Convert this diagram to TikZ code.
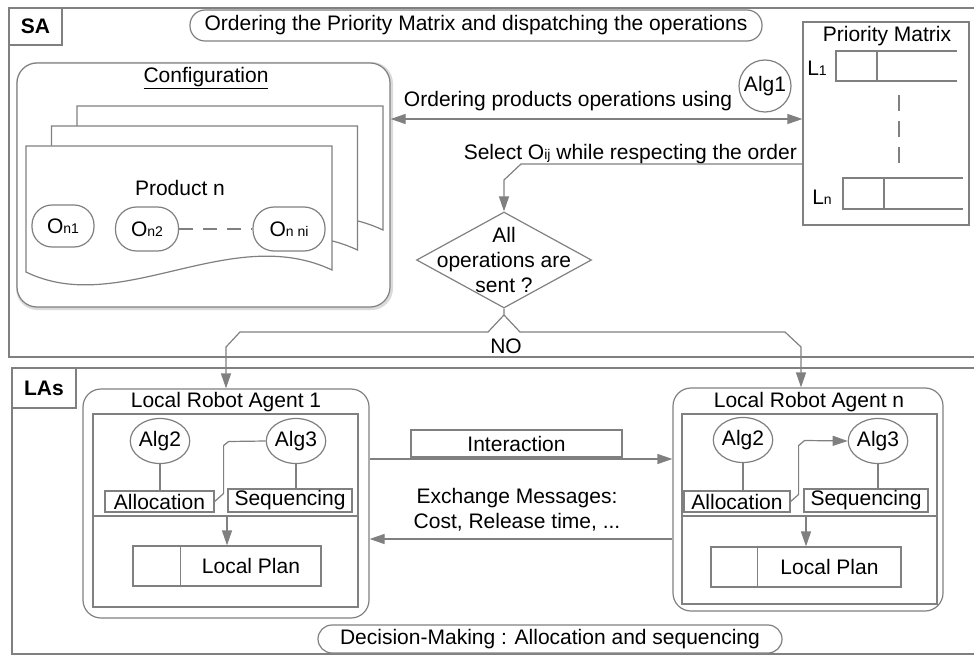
\documentclass[tikz,border=0pt]{standalone}
\usepackage{fontspec}
\setmainfont{Liberation Sans}
\usetikzlibrary{arrows.meta,shapes.geometric,positioning}
\definecolor{linegray}{HTML}{808080}
\definecolor{shadegray}{HTML}{DADADA}
\newcommand{\mainfs}{\fontsize{21}{25}\selectfont}
\newcommand{\idx}[1]{{\fontsize{14}{14}\selectfont #1}}

\begin{document}
\begin{tikzpicture}[
  x=1pt, y=-1pt,
  every node/.style={font=\mainfs, inner sep=0pt, text=black},
  box/.style={draw=linegray, line width=1.2pt, fill=white},
  pill/.style={box, rounded corners=#1},
  pill/.default=14pt,
  oval/.style={box, ellipse},
  agentbox/.style={draw=linegray, line width=1.2pt, rounded corners=18pt},
  line/.style={draw=linegray, line width=1.2pt},
  arr/.style={line, -{Triangle[length=15pt, width=10pt]}},
  biarr/.style={line, {Triangle[length=15pt, width=10pt]}-{Triangle[length=15pt, width=10pt]}},
]
  \useasboundingbox (0,0) rectangle (974,655);
  \clip (0,0) rectangle (974,655);

  % Frames: SA on top, LAs below
  \draw[line] (9,8) rectangle (990,357);
  \draw[line] (12,368) rectangle (990,654);
  \node[box, minimum width=53pt, minimum height=37pt, font=\mainfs\bfseries] (salbl) at (35.5,26.5) {SA};
  \node[box, minimum width=64pt, minimum height=40pt, font=\mainfs\bfseries] (laslbl) at (44,388) {LAs};
  \node[pill=15pt, minimum width=572pt, minimum height=31pt] (ttl) at (476,25.5) {Ordering the Priority Matrix and dispatching the operations};

  % Configuration with the stacked products
  \node[draw=shadegray, line width=3pt, rounded corners=20pt, minimum width=374pt, minimum height=245pt] (confsh) at (204.5,186) {};
  \node[box, rounded corners=20pt, minimum width=373pt, minimum height=244pt] (conf) at (203.5,185) {};
  \node (conftl) at (206,78) {\underline{Configuration}};
  \foreach \s in {2,1,0}
    \draw[line, fill=white, shift={(\s*25.5,-\s*20)}] (26,146) -- (332,146) -- (332,270)
      .. controls (230,222) and (120,318) .. (26,272) -- cycle;
  \node (prod) at (180,188) {Product n};
  \node[pill=20pt, minimum width=62pt, minimum height=42pt] (o1) at (63,226) {O\idx{n1}};
  \node[pill=21pt, minimum width=63pt, minimum height=44pt] (o2) at (147,229) {O\idx{n2}};
  \node[pill=21pt, minimum width=72pt, minimum height=44pt] (oni) at (289,229) {O\idx{n ni}};
  \draw[line, dash pattern=on 14pt off 10pt] (o2) -- (oni);

  % Priority Matrix
  \node[box, minimum width=166pt, minimum height=203pt] (pm) at (886,123.5) {};
  \node (pmt) at (887,36) {Priority Matrix};
  \node (l1) at (817,68) {L\idx{1}};
  \draw[line] (957,51) -- (836,51) -- (836,81) -- (957,81) (877,51) -- (877,81);
  \draw[line, dash pattern=on 16pt off 10pt] (899,95) -- (899,163);
  \node (ln) at (822,197) {L\idx{n}};
  \draw[line] (963,178) -- (843,178) -- (843,209) -- (963,209) (884,178) -- (884,209);

  % Ordering and selection
  \coordinate (ordy) at (0,119);
  \draw[biarr] (conf.east |- ordy) -- (pm.west |- ordy);
  \node (ordtxt) at (568,101) {Ordering products operations using};
  \node[box, circle, minimum size=52pt] (alg1) at (765,86) {Alg1};
  \node[anchor=east] (sel) at (797,154) {Select O\idx{ij} while respecting the order};
  \node[diamond, draw=linegray, line width=1.2pt, minimum width=175pt, minimum height=96pt,
    label={[align=center]center:{All\\operations are\\sent ?}}] (dec) at (504,260) {};
  \coordinate (sely) at (0,164);
  \draw[arr] (pm.west |- sely) -- (521,164) -- (504,180) -- (dec.north);

  % Local Robot Agent 1
  \node[agentbox, minimum width=286pt, minimum height=229pt] (ag1) at (226,503.5) {};
  \node (ag1t) at (226,402) {Local Robot Agent 1};
  \node[box, minimum width=265pt, minimum height=193pt] (in1) at (225.5,510.5) {};
  \coordinate (divy) at (0,516);
  \draw[line] (in1.west |- divy) -- (in1.east |- divy);
  \node[oval, minimum width=58pt, minimum height=45pt] (a2a) at (160,441) {Alg2};
  \node[oval, minimum width=56pt, minimum height=45pt] (a3a) at (296,441) {Alg3};
  \node[box, minimum width=109pt, minimum height=21pt] (alA) at (159.5,501.5) {Allocation};
  \node[box, minimum width=124pt, minimum height=23pt] (sqA) at (290,500.5) {Sequencing};
  \draw[line] (a2a.south) -- (a2a.south |- alA.north);
  \draw[line] (a3a.south) -- (a3a.south |- sqA.north);
  \draw[line] (alA.east) -- ++(9,-8) -- ++(0,-48) -- ++(5,-4) -- (a3a.west);
  \node[box, minimum width=188pt, minimum height=40pt] (lpA) at (227,566) {\hspace*{48pt}Local Plan};
  \draw[line] ([xshift=48pt]lpA.north west) -- ([xshift=48pt]lpA.south west);
  \coordinate (dvA) at (227,516);
  \draw[arr] (dvA) -- (lpA.north);

  % Local Robot Agent n
  \node[agentbox, minimum width=270pt, minimum height=223pt] (agn) at (808,499.5) {};
  \node (agnt) at (809,402) {Local Robot Agent n};
  \node[box, minimum width=255pt, minimum height=190pt] (inN) at (809.5,509) {};
  \draw[line] (inN.west |- divy) -- (inN.east |- divy);
  \node[oval, minimum width=56pt, minimum height=45pt] (a2n) at (743,440) {Alg2};
  \node[oval, minimum width=58pt, minimum height=45pt] (a3n) at (878,441) {Alg3};
  \node[box, minimum width=106pt, minimum height=21pt] (alN) at (737,501.5) {Allocation};
  \node[box, minimum width=124pt, minimum height=23pt] (sqN) at (866,500.5) {Sequencing};
  \draw[line] (a2n.south) -- (a2n.south |- alN.north);
  \draw[line] (a3n.south) -- (a3n.south |- sqN.north);
  \draw[arr] (alN.east) -- ++(8,-7) -- ++(0,-49) -- ++(6,-5) -- (a3n.west);
  \node[box, minimum width=190pt, minimum height=40pt] (lpN) at (806,567) {\hspace*{47pt}Local Plan};
  \draw[line] ([xshift=47pt]lpN.north west) -- ([xshift=47pt]lpN.south west);
  \coordinate (dvN) at (806,516);
  \draw[arr] (dvN) -- (lpN.north);

  % Dispatching to the agents
  \coordinate (split) at (504,315);
  \coordinate (turnn) at (801,347);
  \draw[arr] (dec.south) -- (split) -- (488,332) -- (240,332) -- (226,347) -- (ag1.north);
  \draw[arr] (split) -- (520,332) -- (785,332) -- (turnn) -- (turnn |- agn.north);
  \node (no) at (506,346) {NO};

  % Interaction between agents
  \node[box, minimum width=211pt, minimum height=27pt] (inter) at (516.5,443.5) {Interaction};
  \coordinate (iay) at (0,459);
  \draw[arr] (ag1.east |- iay) -- (agn.west |- iay);
  \node[align=center] (exch) at (517,509.5) {Exchange Messages:\\Cost, Release time, ...};
  \coordinate (eay) at (0,539);
  \draw[arr] (agn.west |- eay) -- (ag1.east |- eay);
  \node[pill, minimum width=464pt, minimum height=28pt] (dm) at (550,639) {Decision-Making : Allocation and sequencing};
\end{tikzpicture}
\end{document}
